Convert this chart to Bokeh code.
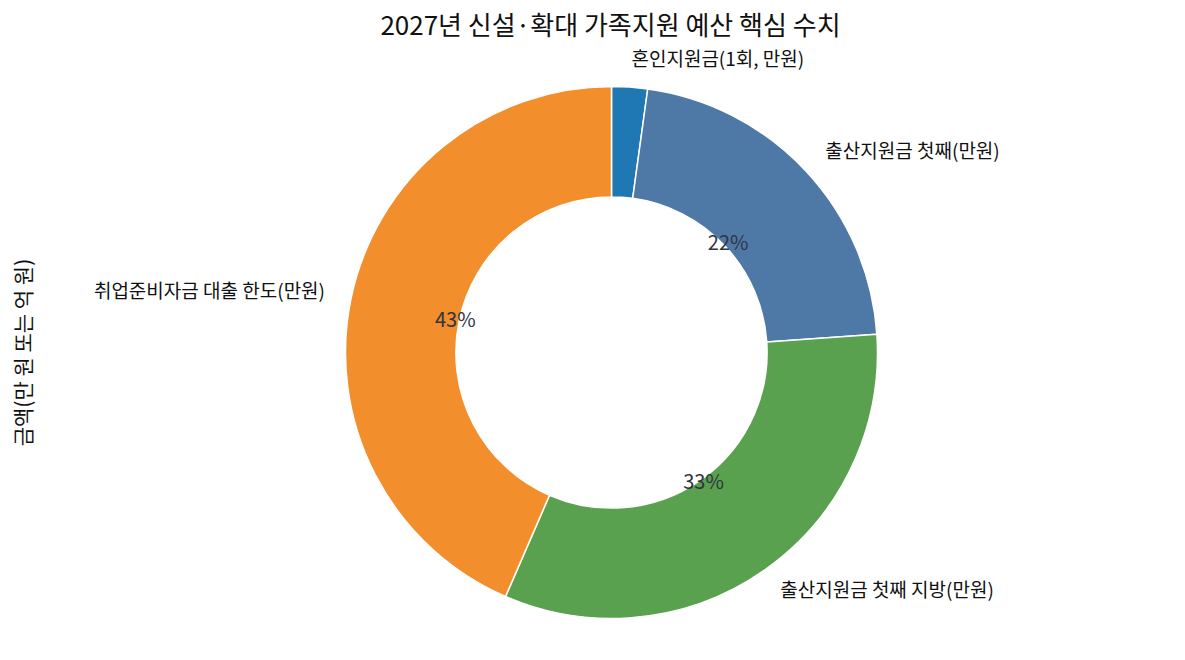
from math import pi, sin, cos

from bokeh.core.properties import value
from bokeh.embed import file_html
from bokeh.models import Label, Range1d
from bokeh.plotting import figure
from bokeh.resources import INLINE

# 항목별 금액 (만원)
categories = ['혼인지원금(1회, 만원)', '출산지원금 첫째(만원)', '출산지원금 첫째 지방(만원)', '취업준비자금 대출 한도(만원)']
amounts = [100, 1000, 1500, 2000]
colors = ['#1f77b4', '#4e79a7', '#59a14f', '#f28e2b']

FONT = 'Noto Sans CJK KR'
W, H = 1169, 644
CX, CY, R = 611, 352, 266  # 화면상 중심, 반지름(px)

p = figure(width=W, height=H, output_backend="svg", toolbar_location=None,
           x_range=Range1d(-CX / R, (W - CX) / R), y_range=Range1d(-(H - CY) / R, CY / R),
           min_border=0, outline_line_color=None)
p.axis.visible = False
p.grid.visible = False

total = sum(amounts)
start = pi / 2
for cat, amt, col in zip(categories, amounts, colors):
    frac = amt / total
    end = start - frac * 2 * pi
    p.annular_wedge(x=0, y=0, inner_radius=0.585, outer_radius=1.0,
                    start_angle=end, end_angle=start, fill_color=col,
                    line_color='white', line_width=1.5)
    mid = (start + end) / 2
    lx, ly = 1.1 * cos(mid), 1.1 * sin(mid)
    p.text(x=[lx], y=[ly], text=[cat], text_font=value(FONT), text_font_size='19px',
           text_align='left' if lx > 0 else 'right', text_baseline='middle',
           y_offset=-3, text_color='#111111')
    if frac > 0.05:
        p.text(x=[0.6 * cos(mid)], y=[0.6 * sin(mid)], text=['%d%%' % round(frac * 100)],
               text_font=value(FONT), text_font_size='20px', text_align='center',
               text_baseline='middle', y_offset=-2, text_color='#30343f')
    start = end

p.add_layout(Label(x=610, y=H - 23, x_units='screen', y_units='screen',
                   text='2027년 신설·확대 가족지원 예산 핵심 수치', text_font=FONT,
                   text_font_size='26px', text_align='center', text_baseline='middle',
                   text_color='#111111'))
p.add_layout(Label(x=21, y=H - CY, x_units='screen', y_units='screen',
                   text='금액(만 원 또는 억 원)', text_font=FONT, text_font_size='21px',
                   angle=pi / 2, text_align='center', text_baseline='middle',
                   text_color='#111111'))

open("out.html", "w").write(file_html(p, INLINE))
